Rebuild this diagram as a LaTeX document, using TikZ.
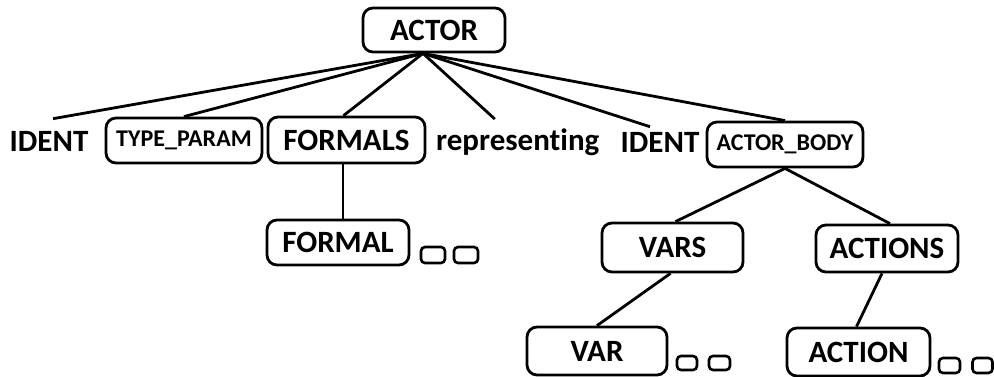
\documentclass[tikz,border=0pt]{standalone}
\usepackage{fontspec}
\setmainfont{Carlito}[Ligatures=NoCommon]
\usetikzlibrary{calc}
\begin{document}
\begin{tikzpicture}[x=1pt,y=-1pt,
  big/.style={font=\bfseries\fontsize{31}{37}\selectfont},
  small/.style={font=\bfseries\fontsize{24}{29}\selectfont},
  box/.style={draw,line width=2.8pt,rounded corners=10pt,inner sep=0pt,align=center},
  word/.style={big,inner sep=0pt},
  dot/.style={draw,line width=2.6pt,rounded corners=4pt,inner sep=0pt},
  edge/.style={line width=2.8pt}]
\useasboundingbox (0,0) rectangle (994,377);
\fill[white] (0,0) rectangle (994,377);

% root
\node[box,big,minimum width=142pt,minimum height=44pt] (actor) at (434,30) {ACTOR};
\coordinate (hub) at ([xshift=-11pt]actor.south);

% first level
\node[word,anchor=base] (identA) at (49,152) {IDENT};
\node[box,small,minimum width=156pt,minimum height=45pt] (tp) at (184,140.5) {TYPE\_PARAM};
\node[box,big,minimum width=157pt,minimum height=46pt] (formals) at (346.5,140) {FORMALS};
\node[word,anchor=base west] (rep) at (436,151) {representing};
\node[word,anchor=base] (identB) at (660,153) {IDENT};
\node[box,small,minimum width=156pt,minimum height=45pt] (body) at (785,144.5) {ACTOR\_BODY};

% second level
\node[box,big,minimum width=142pt,minimum height=45pt] (formal) at (338,242.5) {FORMAL};
\node[box,big,minimum width=141pt,minimum height=49pt] (vars) at (672.5,247.5) {VARS};
\node[box,big,minimum width=142pt,minimum height=47pt] (actions) at (887,248.5) {ACTIONS};

% third level
\node[box,big,minimum width=140pt,minimum height=48pt] (var) at (597,351) {VAR};
\node[box,big,minimum width=143pt,minimum height=48pt] (action) at (858.5,352) {ACTION};

% repetition marks
\node[dot,minimum width=24pt,minimum height=16pt] (fa) at (433,255) {};
\node[dot,minimum width=24pt,minimum height=16pt] (fb) at (466,255) {};
\node[dot,minimum width=20pt,minimum height=14pt] (va) at (687,363) {};
\node[dot,minimum width=21pt,minimum height=14pt] (vb) at (719.5,363) {};
\node[dot,minimum width=21pt,minimum height=15pt] (aa) at (949.5,365.5) {};
\node[dot,minimum width=20pt,minimum height=15pt] (ab) at (982.5,365.5) {};

% connectors
\draw[edge] (hub) -- ([xshift=4pt,yshift=13pt]identA.north);
\draw[edge] (hub) -- (tp.north);
\draw[edge] (hub) -- ([xshift=-3pt]formals.north);
\draw[edge] (hub) -- ([xshift=-23pt,yshift=10pt]rep.north);
\draw[edge] (hub) -- ([xshift=-10pt,yshift=6pt]identB.north);
\draw[edge] (hub) -- (body.north);
\draw[edge] ([xshift=-3.5pt]formals.south) -- ([xshift=-3.5pt]formals.south |- formal.north);
\draw[edge] (body.south) -- ([xshift=3pt]vars.north);
\draw[edge] (body.south) -- ([xshift=3pt]actions.north);
\draw[edge] ([xshift=-2pt]vars.south) -- (var.north);
\draw[edge] ([xshift=-5pt]actions.south) -- ([xshift=-2pt]action.north);
\end{tikzpicture}
\end{document}
